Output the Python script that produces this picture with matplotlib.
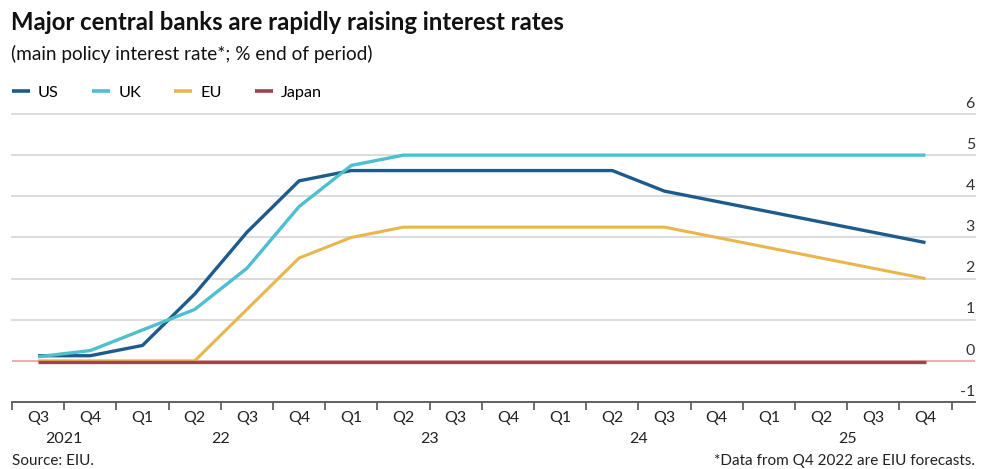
import matplotlib
matplotlib.use("Agg")
import matplotlib.pyplot as plt

# Quarterly policy rates, Q3 2021 to Q4 2025 (% end of period)
quarters = ["Q3", "Q4", "Q1", "Q2", "Q3", "Q4", "Q1", "Q2", "Q3", "Q4",
            "Q1", "Q2", "Q3", "Q4", "Q1", "Q2", "Q3", "Q4"]
years = ["2021", "22", "23", "24", "25"]
year_centres = [0.5, 3.5, 7.5, 11.5, 15.5]

us = [0.125, 0.125, 0.375, 1.625, 3.125, 4.375, 4.625, 4.625, 4.625, 4.625,
      4.625, 4.625, 4.125, 3.875, 3.625, 3.375, 3.125, 2.875]
uk = [0.1, 0.25, 0.75, 1.25, 2.25, 3.75, 4.75, 5.0, 5.0, 5.0,
      5.0, 5.0, 5.0, 5.0, 5.0, 5.0, 5.0, 5.0]
eu = [0.0, 0.0, 0.0, 0.0, 1.25, 2.5, 3.0, 3.25, 3.25, 3.25,
      3.25, 3.25, 3.25, 3.0, 2.75, 2.5, 2.25, 2.0]
japan = [-0.03] * 18

yticks = [-1, 0, 1, 2, 3, 4, 5, 6]

colors = {"US": "#1c5b8c", "UK": "#4dbfd0", "EU": "#e9b64e", "Japan": "#a3424c"}

plt.rcParams["font.family"] = ["Lato", "DejaVu Sans"]

W, H = 981, 469
fig = plt.figure(figsize=(W / 100, H / 100), dpi=100)
left, right, top, bottom = 12, 975, 114, 402
ax = fig.add_axes([left / W, (H - bottom) / H, (right - left) / W, (bottom - top) / H])

x = list(range(len(quarters)))
x0 = -0.5
step = 52.2
x1 = x0 + (right - left) / step
ax.set_xlim(x0, x1)
ax.set_ylim(-1, 6)

# horizontal gridlines
for v in yticks[2:]:
    ax.axhline(v, color="#d9d9d9", lw=1.3, zorder=1, clip_on=False)
ax.axhline(0, color="#e8a2a2", lw=1.2, zorder=1)

lines = []
for name, vals in [("US", us), ("UK", uk), ("EU", eu), ("Japan", japan)]:
    ln, = ax.plot(x, vals, color=colors[name], lw=2.4 if name != "EU" else 2.2,
                  label=name, zorder=3, solid_capstyle="butt", solid_joinstyle="round")
    lines.append(ln)

# right-hand value labels sitting on gridlines
for v in yticks:
    ax.text(1.0, v + 0.08, f"{v}" if v >= 0 else f"-{abs(v)}", transform=ax.get_yaxis_transform(),
            ha="right", va="bottom", fontsize=11.5, color="#333333")

for s in ["top", "right", "left"]:
    ax.spines[s].set_visible(False)
ax.spines["bottom"].set_color("#555555")
ax.spines["bottom"].set_linewidth(1.3)
ax.set_yticks([])

# quarter boundary ticks and labels
ax.set_xticks([i - 0.5 for i in range(len(quarters) + 1)])
ax.set_xticklabels([])
ax.tick_params(axis="x", direction="out", length=6, width=1.2, color="#555555")
for i, q in enumerate(quarters):
    ax.text(i, -1.22, q, ha="center", va="top", fontsize=11.5, color="#222222")
for yr, c in zip(years, year_centres):
    ax.text(c, -1.73, yr, ha="center", va="top", fontsize=11.5, color="#222222")

# titles
fig.text(11 / W, 1 - 22 / H, "Major central banks are rapidly raising interest rates",
         ha="left", va="center", fontsize=17.2, fontweight="bold", color="#111111")
fig.text(11 / W, 1 - 54 / H, "(main policy interest rate*; % end of period)",
         ha="left", va="center", fontsize=13.7, color="#111111")

leg = fig.legend(handles=lines, loc="center left", bbox_to_anchor=(12 / W, 1 - 93 / H),
                 ncol=4, frameon=False, fontsize=11.7, handlelength=1.1, handletextpad=0.5,
                 columnspacing=2.05, borderaxespad=0, borderpad=0)
for lh in leg.get_lines():
    lh.set_linewidth(2.6)

fig.text(12 / W, 1 - 461 / H, "Source: EIU.", ha="left", va="center", fontsize=11, color="#222222")
fig.text(975 / W, 1 - 461 / H, "*Data from Q4 2022 are EIU forecasts.", ha="right", va="center",
         fontsize=11, color="#222222")

fig.savefig("out.png", dpi=100, facecolor="white")
